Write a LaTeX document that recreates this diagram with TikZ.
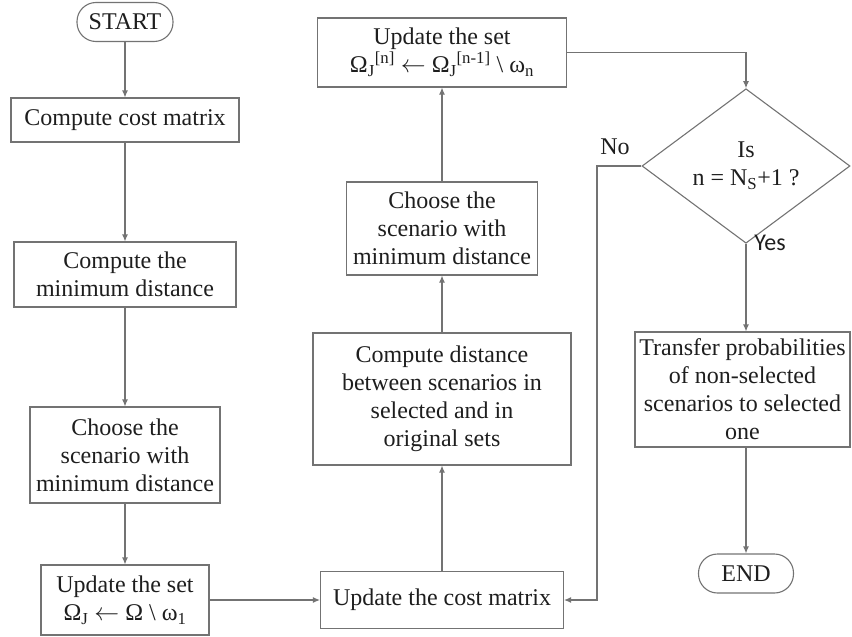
\documentclass[tikz,border=0pt]{standalone}
\usepackage{fontspec}
\setmainfont{Liberation Serif}
\newfontfamily\yesfont{Carlito}
\usetikzlibrary{arrows.meta,shapes.geometric}
\definecolor{linegray}{RGB}{115,115,115}
\definecolor{inkgray}{RGB}{30,30,30}
\newcommand*{\getsarrow}{\ensuremath{\leftarrow}}

\tikzset{
  boxsize/.style 2 args={minimum width=#1pt, minimum height=#2pt},
  block/.style={draw=linegray, line width=1.1pt, text=inkgray, align=center,
    inner sep=2pt, font=\fontsize{24}{28}\selectfont},
  terminal/.style={block, rounded corners=19pt},
  decision/.style={block, diamond, inner sep=0pt},
  tag/.style={text=inkgray, inner sep=0pt, font=\fontsize{24}{28}\selectfont},
  flow/.style={draw=linegray, line width=1.1pt, -{Latex[length=7pt,width=6pt]}},
}

\begin{document}
\begin{tikzpicture}[x=1pt, y=-1pt]
  \useasboundingbox (0,0) rectangle (852,637);
  % left column
  \node[terminal, boxsize={96}{39}] (start) at (125,22) {START};
  \node[block, boxsize={228}{44}] (cost) at (125,120) {Compute cost matrix};
  \node[block, boxsize={222}{65}] (mindist) at (125,274.5) {Compute the\\minimum distance};
  \node[block, boxsize={190}{96}] (choose1) at (125,455) {Choose the\\scenario with\\minimum distance};
  \node[block, boxsize={168}{70}] (upd1) at (125,600)
    {Update the set\\Ω\textsubscript{J} \getsarrow{} Ω \textbackslash{} ω\textsubscript{1}};
  % middle column
  \node[block, boxsize={243}{57}] (costupd) at (442,600) {Update the cost matrix};
  \node[block, boxsize={258}{132}] (dist) at (442,399)
    {Compute distance\\between scenarios in\\selected and in\\original sets};
  \node[block, boxsize={191}{93}] (choose2) at (442,228.5) {Choose the\\scenario with\\minimum distance};
  \node[block, boxsize={249}{69}] (upd2) at (442,52.5)
    {Update the set\\Ω\textsubscript{J}\textsuperscript{[n]} \getsarrow{} Ω\textsubscript{J}\textsuperscript{[n-1]} \textbackslash{} ω\textsubscript{n}};
  % right column
  \node[decision, boxsize={208}{122}] (dec) at (746,166) {Is\\n = N\textsubscript{S}+1 ?};
  \node[block, boxsize={215}{115}] (transfer) at (742.5,389.5)
    {Transfer probabilities\\of non-selected\\scenarios to selected\\one};
  \node[terminal, boxsize={95}{39}] (end) at (746,573.5) {END};
  \node[tag] (no) at (615,147) {No};
  \node[tag, font=\yesfont\fontsize{24}{28}\selectfont] (yes) at (770,243) {Yes};
  \coordinate (noturn) at (597,166);

  % connectors
  \foreach \from/\to in {start/cost, cost/mindist, mindist/choose1, choose1/upd1,
      upd1/costupd, costupd/dist, dist/choose2, choose2/upd2}
    \draw[flow] (\from) -- (\to);
  \draw[flow] (upd2.east) -| (dec.north);
  \draw[flow] (dec.west) -- (noturn) |- (costupd.east);
  \draw[flow] (dec.south) -- (dec.south |- transfer.north);
  \draw[flow] (end.north |- transfer.south) -- (end.north);
\end{tikzpicture}
\end{document}
